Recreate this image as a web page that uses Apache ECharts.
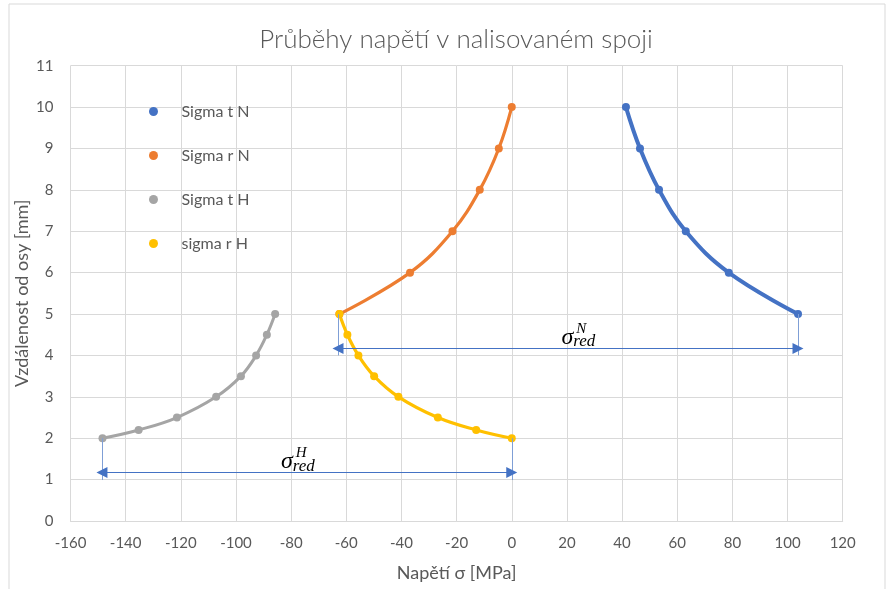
<!DOCTYPE html>
<html>
<head>
<meta charset="utf-8">
<script src="https://cdn.jsdelivr.net/npm/echarts@6/dist/echarts.min.js"></script>
<style>html,body{margin:0;padding:0;background:#fff}#c{width:889px;height:589px}</style>
</head>
<body>
<div id="c"></div>
<script>
// ---- data ----
const seriesNames = ['Sigma t N', 'Sigma r N', 'Sigma t H', 'sigma r H'];
const sigmaTN_x = [41.4, 46.5, 53.4, 63.1, 78.7, 103.8];
const sigmaTN_y = [10, 9, 8, 7, 6, 5];
const sigmaRN_x = [0, -4.7, -11.6, -21.5, -36.9, -62.5];
const sigmaRN_y = [10, 9, 8, 7, 6, 5];
const sigmaTH_x = [-85.8, -88.8, -92.7, -98.2, -107.2, -121.4, -135.3, -148.4];
const sigmaTH_y = [5, 4.5, 4, 3.5, 3, 2.5, 2.2, 2];
const sigmaRH_x = [-62.5, -59.6, -55.6, -49.9, -41.1, -26.8, -12.9, 0];
const sigmaRH_y = [5, 4.5, 4, 3.5, 3, 2.5, 2.2, 2];
// dimension arrows (sigma_red)
const redN_x = [-63.0, 103.8];   // arrow ends
const redN_y = 4.17;             // arrow level
const redN_v = [5, 4.0];         // vertical extension lines top/bottom
const redH_x = [-148.6, 0];
const redH_y = 1.17;
const redH_v = [2, 0.99];
// label anchors: [x, y, superscript]
const redLabels = [[22.3, 4.17, 'N'], [-79.4, 1.17, 'H']];

const colors = ['#4472C4', '#ED7D31', '#A5A5A5', '#FFC000'];
const zip = (xs, ys) => xs.map((x, i) => [x, ys[i]]);
const FONT = 'Lato';
const TXT = '#595959';

function lineSeries(i, xs, ys, w) {
  return {
    name: seriesNames[i], type: 'line', data: zip(xs, ys),
    smooth: 0.4, symbol: 'circle', symbolSize: 8,
    lineStyle: { color: colors[i], width: w },
    itemStyle: { color: colors[i] },
    z: 3
  };
}

const arrowColor = '#4472C4';
const option = {
  animation: false,
  backgroundColor: '#fff',
  title: {
    text: 'Průběhy napětí v nalisovaném spoji',
    left: 451, top: 22, textAlign: 'center',
    textStyle: { fontFamily: FONT, fontSize: 26, fontWeight: 300, color: TXT }
  },
  legend: {
    orient: 'vertical', left: 144, top: 98,
    data: seriesNames, icon: 'circle',
    itemWidth: 30, itemHeight: 9, itemGap: 27,
    textStyle: { fontFamily: FONT, fontSize: 16, color: TXT, lineHeight: 17, padding: [0, 0, 0, 8] }
  },
  grid: { left: 70.5, right: 46.3, top: 65.7, bottom: 68, containLabel: false, outerBoundsMode: 'none' },
  xAxis: {
    type: 'value', min: -160, max: 120, interval: 20,
    name: 'Napětí σ [MPa]', nameLocation: 'middle', nameGap: 43,
    nameTextStyle: { fontFamily: FONT, fontSize: 18, color: TXT },
    axisLine: { show: true, onZero: false, lineStyle: { color: '#D9D9D9' } },
    axisTick: { show: false },
    axisLabel: { fontFamily: FONT, fontSize: 15, color: TXT, margin: 15 },
    splitLine: { show: true, lineStyle: { color: '#D9D9D9' } }
  },
  yAxis: {
    type: 'value', min: 0, max: 11, interval: 1,
    name: 'Vzdálenost od osy [mm]', nameLocation: 'middle', nameGap: 39.5,
    nameMoveOverlap: false,
    nameTextStyle: { fontFamily: FONT, fontSize: 18, color: TXT },
    axisLine: { show: false },
    axisTick: { show: false },
    axisLabel: { fontFamily: FONT, fontSize: 15, color: TXT, margin: 17 },
    splitLine: { show: true, lineStyle: { color: '#D9D9D9' } }
  },
  graphic: [{
    type: 'rect', shape: { x: 9, y: 4, width: 876, height: 620 },
    style: { fill: 'none', stroke: '#D9D9D9', lineWidth: 1 }, silent: true, z: -10
  }],
  series: [
    lineSeries(0, sigmaTN_x, sigmaTN_y, 4),
    lineSeries(1, sigmaRN_x, sigmaRN_y, 3.2),
    lineSeries(2, sigmaTH_x, sigmaTH_y, 3),
    lineSeries(3, sigmaRH_x, sigmaRH_y, 3.2),
    {
      name: 'dims', type: 'line', data: [[redN_x[0], redN_y]], symbol: 'none',
      lineStyle: { width: 0 }, silent: true, z: 2,
      markLine: {
        silent: true, animation: false,
        label: { show: false },
        symbol: ['none', 'none'],
        lineStyle: { color: '#7F9FD6', width: 1, type: 'solid' },
        data: [
          [{ coord: [redN_x[0], redN_v[0]] }, { coord: [redN_x[0], redN_v[1]] }],
          [{ coord: [redN_x[1], redN_v[0]] }, { coord: [redN_x[1], redN_v[1]] }],
          [{ coord: [redH_x[0], redH_v[0]] }, { coord: [redH_x[0], redH_v[1]] }],
          [{ coord: [redH_x[1], redH_v[0]] }, { coord: [redH_x[1], redH_v[1]] }]
        ]
      }
    },
    {
      name: 'arrows', type: 'line', data: [[redH_x[0], redH_y]], symbol: 'none',
      lineStyle: { width: 0 }, silent: true, z: 2,
      markLine: {
        silent: true, animation: false,
        label: { show: false },
        symbol: ['triangle', 'triangle'], symbolSize: 11,
        lineStyle: { color: arrowColor, width: 1, type: 'solid' },
        itemStyle: { color: arrowColor },
        data: [
          [{ coord: [redN_x[0], redN_y] }, { coord: [redN_x[1], redN_y] }],
          [{ coord: [redH_x[0], redH_y] }, { coord: [redH_x[1], redH_y] }]
        ]
      }
    },
    {
      name: 'labels', type: 'custom', silent: true, z: 4,
      data: redLabels,
      renderItem: function (params, api) {
        const p = api.coord([api.value(0), api.value(1)]);
        const sup = redLabels[params.dataIndex][2];
        const serif = '"Liberation Serif", "DejaVu Serif", serif';
        return {
          type: 'group', x: p[0], y: p[1],
          children: [
            { type: 'text', x: 0, y: -11, style: { text: 'σ', fontFamily: serif, fontStyle: 'italic', fontSize: 24, fill: '#000', align: 'right', verticalAlign: 'middle' } },
            { type: 'text', x: 0, y: -6.5, style: { text: 'red', fontFamily: serif, fontStyle: 'italic', fontSize: 17, fill: '#000', align: 'left', verticalAlign: 'middle' } },
            { type: 'text', x: 3, y: -19.5, style: { text: sup, fontFamily: serif, fontStyle: 'italic', fontSize: 15, fill: '#000', align: 'left', verticalAlign: 'middle' } }
          ]
        };
      }
    }
  ]
};
const chart = echarts.init(document.getElementById('c'), null, { renderer: 'canvas' });
chart.setOption(option);
</script>
</body>
</html>
